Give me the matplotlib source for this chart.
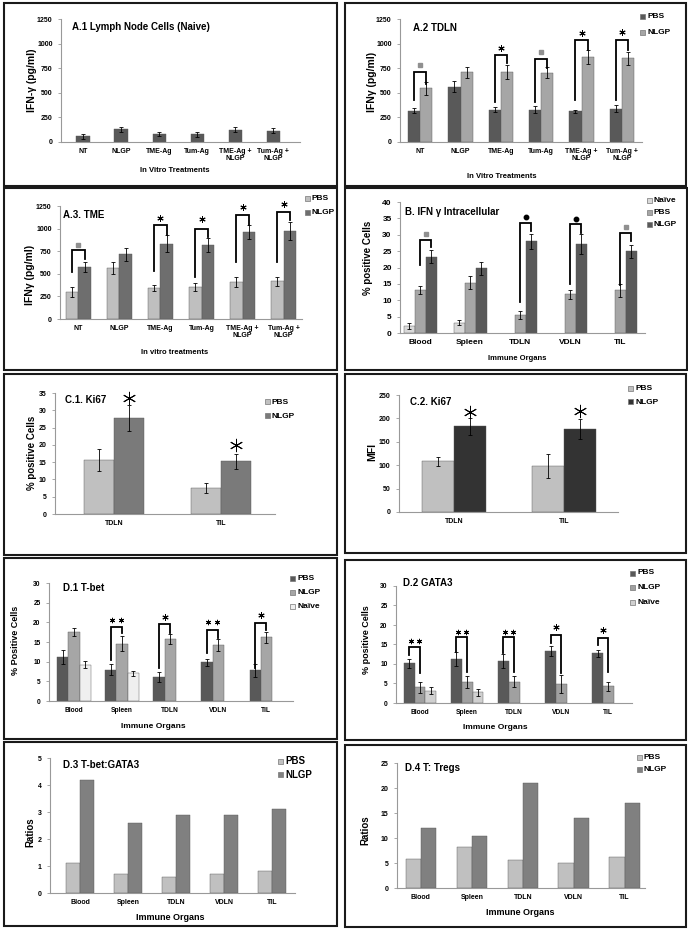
import numpy as np
import matplotlib
matplotlib.use("Agg")
import matplotlib.pyplot as plt
from matplotlib.patches import Rectangle

plt.rcParams["font.family"] = ["Liberation Sans", "DejaVu Sans"]
plt.rcParams["font.weight"] = "bold"

# ---- data ----
treatments = ["NT", "NLGP", "TME-Ag", "Tum-Ag", "TME-Ag +\nNLGP", "Tum-Ag +\nNLGP"]
organs = ["Blood", "Spleen", "TDLN", "VDLN", "TIL"]
ki_sites = ["TDLN", "TIL"]
nan = np.nan

a1_ifn = [60, 130, 85, 80, 125, 115]
a1_err = [25, 25, 20, 25, 25, 25]

a2_pbs = [320, 560, 330, 330, 310, 340]
a2_pbs_err = [30, 55, 30, 40, 20, 40]
a2_nlgp = [545, 710, 715, 705, 865, 850]
a2_nlgp_err = [65, 55, 70, 55, 75, 65]
# (group, left leg bottom, top, right leg bottom, mark, mark y)
a2_sig = [(0, 425, 713, 594, "sq", 781), (2, 408, 883, 798, "*", 951),
          (3, 408, 842, 747, "sq", 917), (4, 425, 1036, 934, "*", 1104),
          (5, 425, 1036, 934, "*", 1114)]

a3_pbs = [295, 560, 340, 350, 405, 415]
a3_pbs_err = [55, 65, 35, 45, 55, 55]
a3_nlgp = [570, 715, 835, 820, 965, 975]
a3_nlgp_err = [55, 75, 90, 80, 75, 100]
a3_sig = [(0, 522, 761, 669, "sq", 816), (2, 529, 1037, 926, "*", 1118),
          (3, 460, 1000, 908, "*", 1110), (4, 632, 1147, 1037, "*", 1239),
          (5, 632, 1184, 1092, "*", 1276)]

b_naive = [2.2, 3.2, nan, nan, nan]
b_naive_err = [1.0, 0.9, nan, nan, nan]
b_pbs = [13.0, 15.4, 5.6, 11.8, 13.0]
b_pbs_err = [1.2, 2.0, 1.2, 1.4, 2.0]
b_nlgp = [23.3, 19.8, 28.0, 27.2, 25.0]
b_nlgp_err = [2.0, 2.0, 2.2, 3.0, 2.0]
b_sig = [(0, 20.8, 28.4, 26.4, "sq", 30.3), (2, 9.5, 33.5, 31.0, "dot", 35.4),
         (3, 15.1, 33.2, 30.5, "dot", 34.9), (4, 14.6, 30.5, 28.1, "sq", 32.4)]

c1_pbs = [15.6, 7.5]
c1_pbs_err = [3.2, 1.4]
c1_nlgp = [27.8, 15.2]
c1_nlgp_err = [3.7, 2.2]
c1_star = [33.5, 20.0]

c2_pbs = [108, 98]
c2_pbs_err = [10, 26]
c2_nlgp = [183, 177]
c2_nlgp_err = [18, 22]
c2_star = [214, 216]

d1_pbs = [11.2, 8.0, 6.2, 9.8, 7.8]
d1_pbs_err = [1.7, 1.3, 1.3, 1.0, 1.6]
d1_nlgp = [17.5, 14.6, 15.8, 14.2, 16.2]
d1_nlgp_err = [1.0, 1.8, 1.2, 1.5, 1.4]
d1_naive = [9.2, 7.0, nan, nan, nan]
d1_naive_err = [0.9, 0.7, nan, nan, nan]
d1_sig = [(1, 10.4, 18.9, 17.3, "**", 20.6), (2, 8.4, 19.6, 17.2, "*", 21.4),
          (3, 12.2, 18.1, 16.0, "**", 20.2), (4, 8.4, 19.9, 18.0, "*", 21.9)]

d2_pbs = [10.2, 11.4, 10.8, 13.4, 12.7]
d2_pbs_err = [1.2, 1.8, 1.8, 1.3, 1.0]
d2_nlgp = [4.0, 5.4, 5.4, 4.8, 4.3]
d2_nlgp_err = [1.5, 1.6, 1.4, 2.3, 1.2]
d2_naive = [3.2, 2.7, nan, nan, nan]
d2_naive_err = [1.0, 0.9, nan, nan, nan]
d2_sig = [(0, 12.3, 14.4, 7.6, "**", 15.9), (1, 13.2, 17.0, 8.0, "**", 18.2),
          (2, 12.8, 17.0, 8.0, "**", 18.2), (3, 15.4, 17.4, 7.6, "*", 19.6),
          (4, 14.9, 16.6, 7.9, "*", 18.7)]

d3_pbs = [1.1, 0.7, 0.6, 0.7, 0.8]
d3_nlgp = [4.2, 2.6, 2.9, 2.9, 3.1]

d4_pbs = [5.9, 8.3, 5.6, 5.1, 6.2]
d4_nlgp = [12.1, 10.5, 21.0, 14.1, 17.0]

W, H = 688, 930
fig = plt.figure(figsize=(W / 100, H / 100), dpi=100)


def fx(x):
    return x / W


def fy(y):
    return 1 - y / H


def frame(x0, y0, x1, y1):
    fig.add_artist(Rectangle((fx(x0), fy(y1)), (x1 - x0) / W, (y1 - y0) / H,
                             transform=fig.transFigure, fill=False,
                             ec="#1a1a1a", lw=1.5))


def make_ax(x0, y0, x1, y1, ylim, yticks, xlim, xlabels, tsize=5):
    ax = fig.add_axes([fx(x0), fy(y1), (x1 - x0) / W, (y1 - y0) / H])
    ax.set_xlim(xlim)
    ax.set_ylim(ylim)
    ax.set_yticks(yticks)
    ax.set_xticks(range(len(xlabels)))
    ax.set_xticklabels(xlabels, fontsize=tsize, linespacing=1.0)
    ax.tick_params(axis="y", labelsize=tsize, length=2, width=0.6, color="#999", pad=4)
    ax.tick_params(axis="x", length=0, pad=4)
    for s in ["top", "right"]:
        ax.spines[s].set_visible(False)
    for s in ["left", "bottom"]:
        ax.spines[s].set_color("#999")
        ax.spines[s].set_linewidth(0.8)
    ax.patch.set_alpha(0)
    return ax


def draw_bars(ax, series, width):
    n = len(series)
    for k, (vals, errs, col) in enumerate(series):
        off = (k - (n - 1) / 2) * width
        x = np.arange(len(vals)) + off
        v = np.array(vals, dtype=float)
        m = ~np.isnan(v)
        ax.bar(x[m], v[m], width, color=col, edgecolor="#555", linewidth=0.3, zorder=2)
        if errs is not None:
            e = np.array(errs, dtype=float)
            ax.errorbar(x[m], v[m], yerr=e[m], fmt="none", ecolor="k",
                        elinewidth=0.6, capsize=1.5, capthick=0.6, zorder=3)


def mark(ax, x, y, kind, size=4.5, gap=0.17):
    if kind == "sq":
        ax.plot(x, y, marker="s", ms=2.8, color="#909090", zorder=4, clip_on=False)
    elif kind == "dot":
        ax.plot(x, y, marker="o", ms=3.2, color="k", zorder=4, clip_on=False)
    else:
        n = len(kind)
        if n > 1:
            size = 3.8
        for j in range(n):
            ax.plot(x + (j - (n - 1) / 2) * gap, y, marker=(6, 2, 0), ms=size,
                    mew=0.7, color="k", zorder=4, clip_on=False)


def brackets(ax, sig, dl, dr):
    for i, yl, yt, yr, kind, ym in sig:
        xl, xr = i + dl, i + dr
        ax.plot([xl, xl, xr, xr], [yl, yt, yt, yr], color="k", lw=1.3,
                zorder=4, clip_on=False, solid_joinstyle="miter")
        mark(ax, (xl + xr) / 2, ym, kind)


def legend(x, y, dy, items, size=6, box=5):
    for j, (lab, col) in enumerate(items):
        yy = y + j * dy
        fig.add_artist(Rectangle((fx(x), fy(yy + box / 2)), box / W, box / H,
                                 transform=fig.transFigure, fc=col, ec="#777", lw=0.5))
        fig.text(fx(x + box + 2), fy(yy), lab, fontsize=size, va="center", ha="left")


def label(x, y, s, size, rot=0, ha="center"):
    fig.text(fx(x), fy(y), s, fontsize=size, rotation=rot, ha=ha, va="center")


# ---- A.1 ----
frame(4, 3, 337, 186)
ax = make_ax(61, 19, 300, 142, (0, 1250), range(0, 1251, 250), (-0.58, 5.7), treatments)
draw_bars(ax, [(a1_ifn, a1_err, "#595959")], 0.35)
label(72, 27, "A.1 Lymph Node Cells (Naive)", 7, ha="left")
label(32, 80, "IFN-γ (pg/ml)", 7.5, rot=90)
label(175, 171, "In Vitro Treatments", 5.5)

# ---- A.2 ----
frame(345, 3, 686, 186)
ax = make_ax(400, 19, 642, 142, (0, 1250), range(0, 1251, 250), (-0.5, 5.5), treatments)
w = 0.3
draw_bars(ax, [(a2_pbs, a2_pbs_err, "#595959"), (a2_nlgp, a2_nlgp_err, "#a6a6a6")], w)
brackets(ax, a2_sig, -w / 2, w / 2)
label(413, 28, "A.2 TDLN", 7, ha="left")
label(372, 82, "IFNγ (pg/ml)", 7.5, rot=90)
label(502, 176, "In Vitro Treatments", 5.5)
legend(640, 17, 16, [("PBS", "#595959"), ("NLGP", "#a6a6a6")])

# ---- A.3 ----
frame(4, 188, 337, 370)
ax = make_ax(60, 206, 302, 319, (0, 1250), range(0, 1251, 250), (-0.45, 5.45), treatments)
draw_bars(ax, [(a3_pbs, a3_pbs_err, "#bfbfbf"), (a3_nlgp, a3_nlgp_err, "#6e6e6e")], w)
brackets(ax, a3_sig, -w / 2, w / 2)
label(63, 215, "A.3. TME", 7, ha="left")
label(30, 275, "IFNγ (pg/ml)", 7.5, rot=90)
label(175, 352, "In vitro treatments", 5.5)
legend(305, 199, 13, [("PBS", "#bfbfbf"), ("NLGP", "#6e6e6e")])

# ---- B ----
frame(345, 188, 687, 370)
ax = make_ax(400, 202, 645, 333, (0, 40), range(0, 41, 5), (-0.4, 4.5), organs, tsize=6)
w = 0.22
draw_bars(ax, [(b_naive, b_naive_err, "#d9d9d9"), (b_pbs, b_pbs_err, "#a6a6a6"),
               (b_nlgp, b_nlgp_err, "#595959")], w)
brackets(ax, b_sig, 0, w)
label(405, 212, "B. IFN γ Intracellular", 7, ha="left")
label(368, 258, "% positive Cells", 7, rot=90)
label(517, 359, "Immune Organs", 5.5)
legend(647, 201, 12, [("Naïve", "#d9d9d9"), ("PBS", "#a6a6a6"), ("NLGP", "#595959")])

# ---- C.1 ----
frame(4, 374, 337, 555)
ax = make_ax(55, 393, 275, 514, (0, 35), range(0, 36, 5), (-0.55, 1.5), ki_sites)
w = 0.28
draw_bars(ax, [(c1_pbs, c1_pbs_err, "#c0c0c0"), (c1_nlgp, c1_nlgp_err, "#7a7a7a")], w)
for i, ys in enumerate(c1_star):
    mark(ax, i + w / 2, ys, "*", size=9.5)
label(65, 400, "C.1. Ki67", 7, ha="left")
label(32, 453, "% positive Cells", 7, rot=90)
legend(265, 402, 14, [("PBS", "#c0c0c0"), ("NLGP", "#7a7a7a")])

# ---- C.2 ----
frame(345, 374, 686, 553)
ax = make_ax(399, 395, 618, 512, (0, 250), range(0, 251, 50), (-0.5, 1.49), ki_sites)
w = 0.29
draw_bars(ax, [(c2_pbs, c2_pbs_err, "#c0c0c0"), (c2_nlgp, c2_nlgp_err, "#333333")], w)
for i, ys in enumerate(c2_star):
    mark(ax, i + w / 2, ys, "*", size=9.5)
label(410, 402, "C.2. Ki67", 7, ha="left")
label(372, 452, "MFI", 7.5, rot=90)
legend(628, 389, 13, [("PBS", "#c0c0c0"), ("NLGP", "#333333")])

# ---- D.1 ----
frame(4, 558, 337, 739)
ax = make_ax(49, 583, 293, 701, (0, 30), range(0, 31, 5), (-0.52, 4.56), organs, tsize=4.8)
w = 0.23
draw_bars(ax, [(d1_pbs, d1_pbs_err, "#595959"), (d1_nlgp, d1_nlgp_err, "#a6a6a6"),
               (d1_naive, d1_naive_err, "#efefef")], w)
brackets(ax, d1_sig, -w, 0)
label(63, 588, "D.1 T-bet", 7, ha="left")
label(15, 640, "% Positive Cells", 6.5, rot=90)
label(153, 726, "Immune Organs", 6)
legend(290, 578, 14, [("PBS", "#595959"), ("NLGP", "#a6a6a6"), ("Naïve", "#efefef")])

# ---- D.2 ----
frame(345, 560, 686, 740)
ax = make_ax(396, 586, 632, 703, (0, 30), range(0, 31, 5), (-0.51, 4.5), organs, tsize=4.8)
draw_bars(ax, [(d2_pbs, d2_pbs_err, "#595959"), (d2_nlgp, d2_nlgp_err, "#a0a0a0"),
               (d2_naive, d2_naive_err, "#d0d0d0")], w)
brackets(ax, d2_sig, -w, 0)
label(403, 583, "D.2 GATA3", 7, ha="left")
label(367, 640, "% positive Cells", 6.5, rot=90)
label(495, 727, "Immune Organs", 6)
legend(630, 573, 14.5, [("PBS", "#595959"), ("NLGP", "#a0a0a0"), ("Naïve", "#d0d0d0")])

# ---- D.3 ----
frame(4, 742, 337, 926)
ax = make_ax(50, 758, 295, 893, (0, 5), range(0, 6), (-0.625, 4.48), organs, tsize=5)
w = 0.3
draw_bars(ax, [(d3_pbs, None, "#c0c0c0"), (d3_nlgp, None, "#808080")], w)
label(63, 765, "D.3 T-bet:GATA3", 7, ha="left")
label(30, 832, "Ratios", 7, rot=90)
label(170, 917, "Immune Organs", 6.5)
legend(278, 761, 13.5, [("PBS", "#c0c0c0"), ("NLGP", "#808080")], size=7)

# ---- D.4 ----
frame(345, 745, 686, 927)
ax = make_ax(397, 763, 645, 888, (0, 25), range(0, 26, 5), (-0.47, 4.4), organs, tsize=5)
draw_bars(ax, [(d4_pbs, None, "#c0c0c0"), (d4_nlgp, None, "#808080")], w)
label(405, 768, "D.4 T: Tregs", 7, ha="left")
label(365, 830, "Ratios", 7, rot=90)
label(520, 912, "Immune Organs", 6.5)
legend(637, 757, 12, [("PBS", "#c0c0c0"), ("NLGP", "#808080")])

fig.savefig("out.png", dpi=100)
